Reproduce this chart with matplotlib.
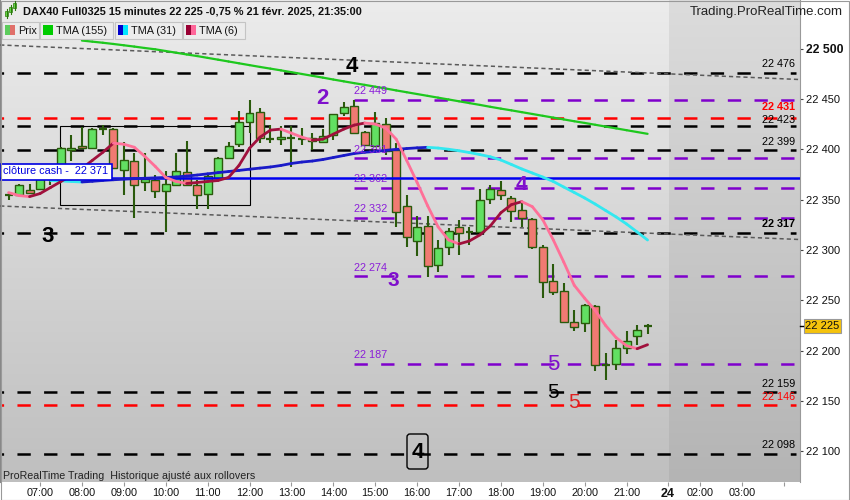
import numpy as np
import pandas as pd
import matplotlib
matplotlib.use("Agg")
import matplotlib.pyplot as plt
from matplotlib.patches import Rectangle, FancyBboxPatch
from matplotlib.collections import LineCollection

plt.rcParams['font.family'] = ['Liberation Sans', 'DejaVu Sans']
plt.rcParams['lines.scale_dashes'] = False

nan = float('nan')

# ---------------- data ----------------
times = pd.date_range("2025-02-21 06:15", "2025-02-21 21:30", freq="15min")
opens = [22354, 22355, 22360, 22361, 22370, 22372, 22399, 22403, 22401, 22419,
         22420, 22379, 22388, 22367, 22369, 22359, 22365, 22377, 22365, 22356,
         22371, 22391, 22405, 22427, 22437, 22410, 22410, 22411, 22411, 22411,
         22407, 22414, 22436, 22443, 22417, 22403, 22425, 22399, 22344, 22309,
         22324, 22285, 22303, 22323, 22317, 22318, 22351, 22360, 22352, 22340,
         22331, 22303, 22269, 22259, 22229, 22228, 22244, 22185, 22187, 22203,
         22215, 22225]
highs = [22357, 22366, 22366, 22372, 22375, 22402, 22414, 22422, 22421, 22424,
         22421, 22407, 22396, 22396, 22374, 22378, 22396, 22408, 22369, 22374,
         22392, 22407, 22438, 22449, 22441, 22424, 22423, 22423, 22421, 22416,
         22420, 22435, 22447, 22449, 22418, 22437, 22431, 22406, 22355, 22334,
         22334, 22310, 22322, 22330, 22323, 22361, 22365, 22368, 22354, 22347,
         22332, 22305, 22286, 22267, 22240, 22246, 22245, 22198, 22211, 22220,
         22226, 22227]
lows = [22350, 22354, 22356, 22360, 22365, 22370, 22388, 22401, 22400, 22414,
        22380, 22355, 22332, 22359, 22352, 22318, 22364, 22364, 22341, 22341,
        22370, 22390, 22402, 22416, 22406, 22406, 22404, 22382, 22404, 22399,
        22406, 22409, 22433, 22415, 22403, 22402, 22394, 22323, 22303, 22294,
        22273, 22278, 22295, 22295, 22305, 22317, 22346, 22350, 22328, 22323,
        22301, 22252, 22255, 22228, 22220, 22219, 22180, 22171, 22181, 22197,
        22206, 22217]
closes = [22355, 22365, 22357, 22370, 22372, 22401, 22401, 22401, 22420, 22420,
          22381, 22389, 22365, 22370, 22359, 22366, 22378, 22365, 22355, 22373,
          22391, 22403, 22427, 22436, 22411, 22410, 22412, 22411, 22410, 22408,
          22413, 22435, 22442, 22416, 22404, 22426, 22398, 22338, 22313, 22323,
          22284, 22302, 22319, 22317, 22318, 22350, 22361, 22355, 22339, 22332,
          22303, 22268, 22258, 22229, 22224, 22245, 22186, 22186, 22203, 22210,
          22221, 22225]

tma6 = [22357, 22354, 22353, 22356, 22362, 22368, 22374, 22381, 22389, 22397,
        22406, 22405, 22402, 22393, 22383, 22372, 22368, 22366, 22367, 22368,
        22369, 22372, 22384, 22401, 22412, 22419, 22420, 22416, 22412, 22409,
        22410, 22415, 22420, 22424, 22426, 22425, 22421, 22410, 22389, 22367,
        22344, 22323, 22310, 22306, 22309, 22315, 22324, 22337, 22345, 22348,
        22343, 22330, 22310, 22288, 22265, 22252, 22240, 22225, 22213, 22205,
        22202, 22206]
tma31 = [nan, nan, nan, nan,
         22369, 22368.5, 22368, 22367.5, 22368.2, 22369, 22369.7, 22370.3, 22370.8, 22371.2,
         22371.6, 22372, 22372.5, 22373.4, 22374.4, 22375.6, 22376.8, 22377.9, 22379, 22380.2,
         22381.3, 22382.4, 22383.9, 22385.9, 22387.3, 22388.3, 22389.8, 22391.8, 22393.8, 22395.8,
         22397, 22397.8, 22398.9, 22399.9, 22400.7, 22401.4, 22401.9, 22401.2, 22400, 22398.5,
         22396.7, 22394.7, 22392.5, 22389.3, 22384.9, 22380.4, 22376.4, 22372.4, 22368, 22362.5,
         22357.1, 22351.6, 22345.6, 22339.2, 22332.8, 22325.8, 22317.9, 22309.9]
tma155 = [nan, nan, nan, nan, nan, nan, nan,
          22507.9, 22506.8, 22505.7, 22504.5, 22503.2, 22501.9, 22500.5, 22499.2, 22497.5, 22495.8,
          22494.1, 22492.5, 22490.7, 22488.9, 22487.1, 22485.3, 22483.5, 22481.7, 22480.0, 22478.3,
          22476.5, 22474.7, 22472.9, 22471.1, 22469.2, 22467.4, 22465.6, 22463.9, 22462.1, 22460.3,
          22458.4, 22456.6, 22454.8, 22453.0, 22451.2, 22449.4, 22447.6, 22445.8, 22444.0, 22442.1,
          22440.3, 22438.6, 22436.8, 22435.0, 22433.2, 22431.4, 22429.6, 22427.8, 22426.1, 22424.3,
          22422.5, 22420.7, 22418.9, 22417.1, 22415.3]

black_levels = [22476, 22423, 22399, 22317, 22159, 22098]
black_bold = [False, False, False, True, False, False]
red_levels = [22431, 22146]
red_bold = [True, False]
purple_levels = [22449, 22391, 22362, 22332, 22274, 22187]
purple_start = "14:29"
cash_close = 22371
last_price = 22225

box_times = ["07:28", "12:00"]
box_prices = [22345, 22423]

trend_hours = [6.05, 25.14]
trend_upper = [22503.5, 22469.2]
trend_lower = [22343.7, 22310.4]

xtick_hours = [7, 8, 9, 10, 11, 12, 13, 14, 15, 16, 17, 18, 19, 20, 21, 21.99, 22.75, 23.75, 24.76]
xtick_labels = ["07:00", "08:00", "09:00", "10:00", "11:00", "12:00", "13:00", "14:00", "15:00",
                "16:00", "17:00", "18:00", "19:00", "20:00", "21:00", "24", "02:00", "03:00", ""]
yticks = [22100, 22150, 22200, 22250, 22300, 22350, 22400, 22450, 22500]

# ---------------- geometry helpers ----------------
T0, PXH = 6.045, 41.9          # hours at left edge, pixels per hour
P0, PPX = 22548.14, 0.99256    # price at top edge, price per pixel
def X(px): return T0 + px / PXH
def Y(py): return P0 - PPX * py
def hrs(s):
    hh, mm = s.split(":")
    return int(hh) + int(mm) / 60.0
def fmt(v): return f"{v:,}".replace(",", " ")

t = np.array([ts.hour + ts.minute / 60.0 for ts in times])
o, h, l, c = map(np.array, (opens, highs, lows, closes))

fig = plt.figure(figsize=(8.5, 5), dpi=100)
fig.patch.set_facecolor('white')
ax = fig.add_axes([0, 18 / 500, 800 / 850, 482 / 500])

# background gradients
g = np.linspace(0, 1, 256)[:, None]
def grad(top, bot):
    top = np.array(top) / 255.0; bot = np.array(bot) / 255.0
    return top + (bot - top) * g[..., None] * np.ones((1, 2, 1))
ax.imshow(grad((236, 236, 236), (191, 191, 191)), extent=[X(0), X(800), Y(482), Y(0)],
          aspect='auto', zorder=0, interpolation='bilinear')
ax.imshow(grad((220, 220, 220), (180, 180, 180)), extent=[X(669), X(800), Y(482), Y(0)],
          aspect='auto', zorder=0.1, interpolation='bilinear')
ax.set_xlim(X(0), X(800))
ax.set_ylim(Y(482), Y(0))

DASH = (0, (9.6, 9.6))
for lv in black_levels:
    ax.plot([X(0), X(796)], [lv, lv], color='black', lw=1.8, linestyle=(7, (9.6, 9.6)), zorder=2)
for lv in red_levels:
    ax.plot([X(0), X(796)], [lv, lv], color='#ff0000', lw=1.8, linestyle=(7, (9.6, 9.6)), zorder=2)
for lv in purple_levels:
    ax.plot([hrs(purple_start), X(800)], [lv, lv], color='#7f00cc', lw=1.8, linestyle=DASH, zorder=2)
ax.plot([X(0), X(800)], [cash_close, cash_close], color='#0000f0', lw=1.8, zorder=6)

for tv in (trend_upper, trend_lower):
    ax.plot(trend_hours, tv, color='#5a5a5a', lw=1.1, linestyle=(0, (3, 2.2)), zorder=3)

ax.add_patch(Rectangle((hrs(box_times[0]), box_prices[0]), hrs(box_times[1]) - hrs(box_times[0]),
                       box_prices[1] - box_prices[0], fill=False, ec='black', lw=0.8, zorder=3))

# candles
bw = 0.19
dk = '#2a5a0c'
for ti, oi, hi, li, ci in zip(t, o, h, l, c):
    ax.plot([ti, ti], [li, hi], color=dk, lw=1.5, zorder=4, solid_capstyle='butt')
    if abs(ci - oi) < 1.5:
        ax.plot([ti - bw / 2, ti + bw / 2], [ci, ci], color=dk, lw=1.6, zorder=5, solid_capstyle='butt')
    else:
        fc = '#62e062' if ci > oi else '#f07a72'
        ax.add_patch(Rectangle((ti - bw / 2, min(oi, ci)), bw, abs(ci - oi), fc=fc, ec=dk, lw=1.0, zorder=5))

def colored_line(vals, up_col, dn_col, lw):
    v = np.array(vals, dtype=float)
    segs, cols = [], []
    for i in range(len(v) - 1):
        if np.isnan(v[i]) or np.isnan(v[i + 1]):
            continue
        segs.append([(t[i], v[i]), (t[i + 1], v[i + 1])])
        cols.append(up_col if v[i + 1] >= v[i] else dn_col)
    ax.add_collection(LineCollection(segs, colors=cols, linewidths=lw, zorder=7, capstyle='round'))

colored_line(tma155, '#1ec81e', '#1ec81e', 1.6)
colored_line(tma31, '#1a1ac8', '#33e8f0', 2.0)
colored_line(tma6, '#a0103c', '#ff7098', 2.0)

# level labels right
black_off = {22423: 1.5}
red_off = {22431: 5.5}
for lv, b in zip(black_levels, black_bold):
    ax.text(X(795), lv + black_off.get(lv, 3.5), fmt(lv), ha='right', va='bottom', fontsize=7.8,
            color='black', fontweight='bold' if b else 'normal', zorder=8)
for lv, b in zip(red_levels, red_bold):
    ax.text(X(795), lv + red_off.get(lv, 3.5), fmt(lv), ha='right', va='bottom', fontsize=7.8,
            color='#ff0000', fontweight='bold' if b else 'normal', zorder=8)
for lv in purple_levels:
    ax.text(hrs(purple_start) + 0.02, lv + 3.5, fmt(lv), ha='left', va='bottom',
            fontsize=7.8, color='#8a1ed8', zorder=8)

# axes styling
ax.set_yticks(yticks)
ax.set_yticklabels([fmt(v) for v in yticks])
ax.yaxis.tick_right()
ax.tick_params(axis='y', direction='out', length=2.5, width=0.8, color='#444', labelsize=8,
               labelcolor='#111', pad=2)
ax.get_yticklabels()[-1].set_fontweight('bold')
ax.get_yticklabels()[-1].set_fontsize(8.8)
ax.set_xticks(xtick_hours)
ax.set_xticklabels(xtick_labels)
ax.tick_params(axis='x', direction='out', length=3, width=0.8, color='#999', labelsize=7.8,
               labelcolor='#111', pad=1.5)
for lab in ax.get_xticklabels():
    if lab.get_text() == "24":
        lab.set_fontweight('bold'); lab.set_fontsize(9)
for s in ('top', 'bottom'):
    ax.spines[s].set_visible(False)
ax.spines['left'].set_color('#888')
ax.spines['right'].set_color('#999')

# ---------------- overlay (pixel coordinates) ----------------
ov = fig.add_axes([0, 0, 1, 1], zorder=10)
ov.set_xlim(0, 850); ov.set_ylim(500, 0)
ov.axis('off'); ov.patch.set_alpha(0)

for cx, y0, y1, b0, b1 in [(7, 9, 18, 11, 16), (11, 5, 14, 7, 12), (15, 1, 10, 3, 8)]:
    ov.plot([cx, cx], [y0, y1], color='#2a7a0c', lw=0.8)
    ov.add_patch(Rectangle((cx - 1.5, b0), 3, b1 - b0, fc='#66dd44', ec='#2a7a0c', lw=0.5))
ov.text(23, 12, "DAX40 Full0325 15 minutes 22 225 -0,75 % 21 févr. 2025, 21:35:00", fontsize=7.9,
        fontweight='bold', va='center', ha='left', color='#111')
ov.text(843, 12, "Trading.ProRealTime.com", fontsize=9.5, va='center', ha='right', color='#222')

legend = [(2, 39, "Prix", ('#5ccc5c', '#e0706a')), (40, 113, "TMA (155)", ('#00cc00', '#00cc00')),
          (115, 182, "TMA (31)", ('#0000cc', '#00e5ff')), (183, 245, "TMA (6)", ('#990033', '#ff6699'))]
for x0, x1, lab, (c1, c2) in legend:
    ov.add_patch(Rectangle((x0, 21.5), x1 - x0, 17, fc='#ececec', ec='#c4c4c4', lw=0.8))
    ov.add_patch(Rectangle((x0 + 3, 25), 5, 9.5, fc=c1, ec='none'))
    ov.add_patch(Rectangle((x0 + 8, 25), 5, 9.5, fc=c2, ec='none'))
    ov.text(x0 + 16, 30.5, lab, fontsize=7.8, va='center', ha='left', color='#111')

ov.add_patch(Rectangle((0.5, 163.5), 112, 16, fc='white', ec='#0000e0', lw=1.2))
ov.text(3, 171.5, "clôture cash -  22 371", fontsize=7.8, color='#0000e0', va='center', ha='left')

waves = [("4", 352, 67, 'black', 'bold', 16), ("2", 322, 99, '#7f10cc', 'bold', 16),
         ("3", 48, 237, 'black', 'bold', 16), ("4", 521, 184, '#7f10cc', 'bold', 15),
         ("3", 393, 281, '#7f10cc', 'bold', 15), ("5", 553, 364, '#7f10cc', 'normal', 16),
         ("5", 553, 392, 'black', 'normal', 15), ("5", 574, 403, '#e02020', 'normal', 15)]
for s, px, py, col, wt, fs in waves:
    ov.text(px, py, s, color=col, fontweight=wt, fontsize=fs, ha='center', va='center')
ov.add_patch(FancyBboxPatch((407, 434), 21, 35, boxstyle='round,pad=0,rounding_size=3',
                            fc='none', ec='black', lw=1.0))
ov.text(417.5, 452, "4", color='black', fontweight='bold', fontsize=16, ha='center', va='center')

ov.plot([800, 803], [326, 326], color='black', lw=1)
ov.add_patch(Rectangle((804, 319), 37, 14, fc='#f5c30c', ec='#999', lw=0.8))
ov.text(822.5, 326, fmt(last_price), fontsize=8, ha='center', va='center', color='#111')

ov.text(3, 476, "ProRealTime Trading  Historique ajusté aux rollovers", fontsize=7.7,
        va='center', ha='left', color='#222')
ov.add_patch(Rectangle((0.5, 0.5), 849, 499, fill=False, ec='#999', lw=0.8))

fig.savefig("out.png", dpi=100)
